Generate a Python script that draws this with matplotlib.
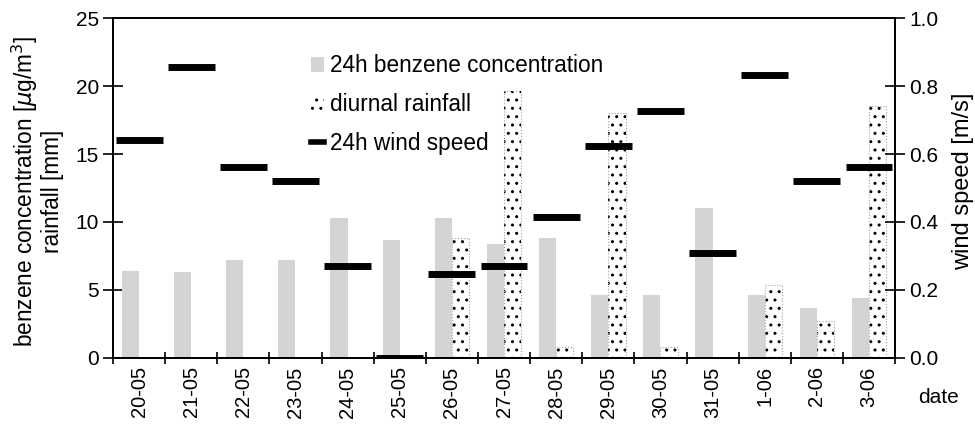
import numpy as np
import matplotlib.pyplot as plt
from matplotlib.lines import Line2D
from matplotlib.patches import Patch

plt.rcParams['font.family'] = ['Liberation Sans', 'DejaVu Sans']
plt.rcParams['hatch.linewidth'] = 1.0

# Données
dates = ['20-05', '21-05', '22-05', '23-05', '24-05', '25-05', '26-05', '27-05',
         '28-05', '29-05', '30-05', '31-05', '1-06', '2-06', '3-06']
benzene = [6.4, 6.35, 7.2, 7.2, 10.3, 8.7, 10.3, 8.4, 8.8, 4.6, 4.6, 11.0, 4.6, 3.7, 4.4]
rainfall = [0, 0, 0, 0, 0, 0, 8.8, 19.6, 0.8, 18.0, 0.8, 0, 5.4, 2.7, 18.5]
wind = [0.64, 0.855, 0.563, 0.52, 0.27, 0.0, 0.247, 0.27, 0.416, 0.624, 0.727,
        0.31, 0.832, 0.52, 0.563]

x = np.arange(len(dates))
w = 0.33

fig = plt.figure(figsize=(9.75, 4.24), dpi=100)
ax = fig.add_axes([0.1159, 0.1557, 0.8021, 0.8018])
ax2 = ax.twinx()

ax.bar(x - w/2, benzene, width=w, color='#d4d4d4', edgecolor='none', zorder=2)
# pluie : points noirs + contour pointillé gris
ax.bar(x + w/2, rainfall, width=w, color='white', edgecolor='black',
       linewidth=0, hatch='..', zorder=2)
ax.bar(x + w/2, rainfall, width=w, fill=False, edgecolor='#a0a0a0',
       linewidth=0.8, linestyle=':', zorder=2)
ax2.hlines(wind, x - 0.45, x + 0.45, color='black', lw=5, zorder=3)

ax.set_xlim(-0.5, len(dates) - 0.5)
ax.set_ylim(0, 25)
ax2.set_ylim(0, 1.0)
ax.set_yticks([0, 5, 10, 15, 20, 25])
ax2.set_yticks([0.0, 0.2, 0.4, 0.6, 0.8, 1.0])
ax2.set_yticklabels(['0.0', '0.2', '0.4', '0.6', '0.8', '1.0'])

ax.set_xticks(x)
ax.set_xticklabels(dates, rotation=90)
ax.set_xticks(np.arange(-0.5, len(dates), 1.0), minor=True)
ax.tick_params(axis='x', which='major', length=0, labelsize=14.5, pad=6)
ax.tick_params(axis='x', which='minor', direction='inout', length=8, width=1.2)
ax.tick_params(axis='y', direction='inout', length=14, width=1.2, labelsize=15, pad=3)
ax2.tick_params(axis='y', direction='inout', length=14, width=1.2, labelsize=15, pad=3)

for a in (ax, ax2):
    for s in a.spines.values():
        s.set_linewidth(1.3)

ax.set_ylabel('benzene concentration [$\\mu$g/m$^3$]\nrainfall [mm]',
              fontsize=16.3, linespacing=1.05)
ax.yaxis.set_label_coords(-0.063, 0.49)
ax2.set_ylabel('wind speed [m/s]', fontsize=17)
ax2.yaxis.set_label_coords(1.073, 0.52)
ax.text(1.029, -0.115, 'date', transform=ax.transAxes, fontsize=15,
        ha='left', va='center')

handles = [Patch(facecolor='#d4d4d4', edgecolor='none'),
           Patch(facecolor='white', edgecolor='black', hatch='..', linewidth=0),
           Line2D([0], [0], color='black', lw=4)]
labels = ['24h benzene concentration', 'diurnal rainfall', '24h wind speed']
ax2.legend(handles, labels, loc='upper left', bbox_to_anchor=(0.253, 0.893),
           frameon=False, fontsize=16.3, handlelength=0.6, handleheight=0.6,
           handletextpad=0.25, labelspacing=0.69, borderaxespad=0, borderpad=0)

plt.savefig('out.png', dpi=100)
